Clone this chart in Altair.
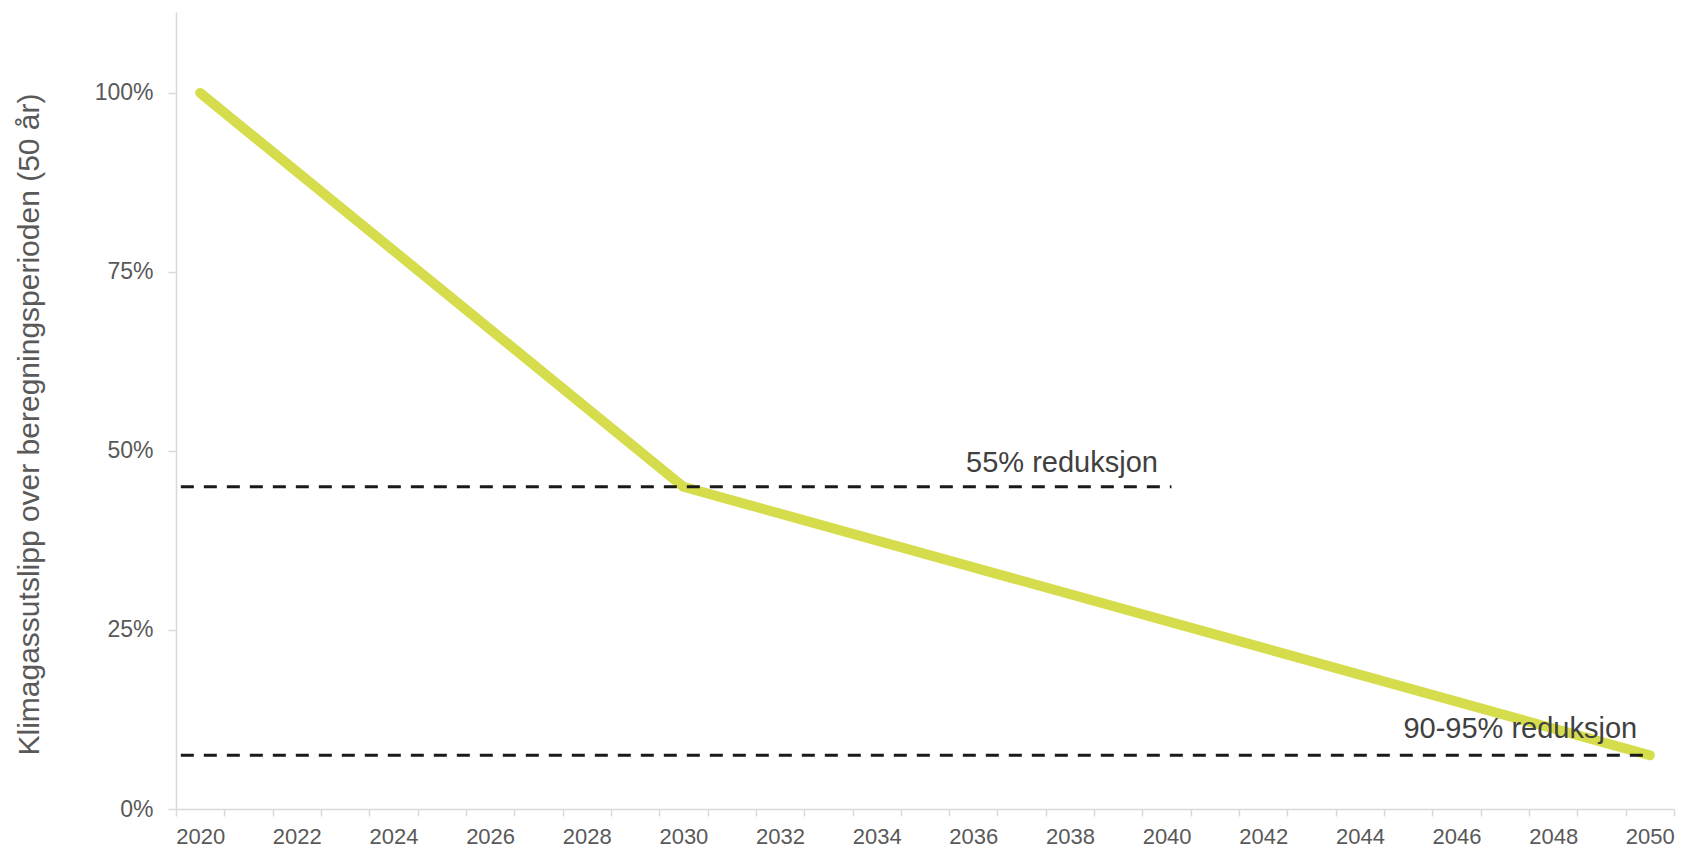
import altair as alt
import pandas as pd

# Data
years = [2020, 2030, 2050]
emissions = [1.00, 0.45, 0.075]

target_labels = ["55% reduksjon", "90-95% reduksjon"]
target_values = [0.45, 0.075]
target_start = [2019.6, 2019.6]
target_end = [2040.1, 2049.9]
label_x = [2035.85, 2044.9]
label_y = [0.471, 0.099]

# axis tick marks sit between the yearly categories
boundary_ticks = [2019.5 + i for i in range(32)]
y_ticks = [0, 0.25, 0.5, 0.75, 1.0]

FONT = "Liberation Sans"
GREY = "#595959"
AXIS_GREY = "#d9d9d9"

PLOT_W = 1498
PLOT_H = 797
HALF_YEAR_PX = PLOT_W / 31 / 2

line_df = pd.DataFrame({"year": years, "value": emissions})
target_df = pd.DataFrame({"x": target_start, "x2": target_end, "y": target_values})
label_df = pd.DataFrame({"x": label_x, "y": label_y, "text": target_labels})

x_scale = alt.Scale(domain=[2019.5, 2050.5], nice=False, zero=False)
y_scale = alt.Scale(domain=[0, 1.113], nice=False)

x_axis = alt.Axis(
    values=boundary_ticks,
    labelExpr="(datum.value + 0.5) % 2 === 0 ? format(datum.value + 0.5, 'd') : ''",
    labelOffset=HALF_YEAR_PX,
    labelOverlap=False,
    labelFlush=False,
    labelBound=False,
    grid=False,
    domainColor=AXIS_GREY,
    domainWidth=1.5,
    tickColor=AXIS_GREY,
    tickWidth=1.5,
    tickSize=7,
    labelPadding=10,
    labelFont=FONT,
    labelFontSize=22,
    labelColor=GREY,
    title=None,
)

y_axis = alt.Axis(
    values=y_ticks,
    format=".0%",
    grid=False,
    domainColor=AXIS_GREY,
    domainWidth=1.5,
    tickColor=AXIS_GREY,
    tickWidth=1.5,
    tickSize=8,
    labelPadding=15,
    labelFont=FONT,
    labelFontSize=23,
    labelColor=GREY,
    title="Klimagassutslipp over beregningsperioden (50 år)",
    titleFont=FONT,
    titleFontSize=30,
    titleFontWeight="normal",
    titleColor=GREY,
    titleX=-147,
    titleY=412,
    titleAlign="center",
    titleBaseline="middle",
    titleAngle=270,
)

line = alt.Chart(line_df).mark_line(
    color="#d6dd4c", strokeWidth=10, strokeCap="round", strokeJoin="round"
).encode(
    x=alt.X("year:Q", scale=x_scale, axis=x_axis),
    y=alt.Y("value:Q", scale=y_scale, axis=y_axis),
)

rules = alt.Chart(target_df).mark_rule(
    color="#1a1a1a", strokeWidth=3, strokeDash=[13, 10]
).encode(
    x=alt.X("x:Q", scale=x_scale),
    x2="x2:Q",
    y=alt.Y("y:Q", scale=y_scale),
)

labels = alt.Chart(label_df).mark_text(
    align="left", baseline="alphabetic", font=FONT, fontSize=29, color="#404040"
).encode(
    x=alt.X("x:Q", scale=x_scale),
    y=alt.Y("y:Q", scale=y_scale),
    text="text:N",
)

chart = alt.layer(line, rules, labels).properties(
    width=PLOT_W,
    height=PLOT_H,
    autosize=alt.AutoSizeParams(type="none"),
    padding={"left": 168, "top": 4, "right": 4, "bottom": 40},
    background="white",
).configure_view(stroke=None)

chart.save("out.html", embed_options={"renderer": "svg", "actions": False})
